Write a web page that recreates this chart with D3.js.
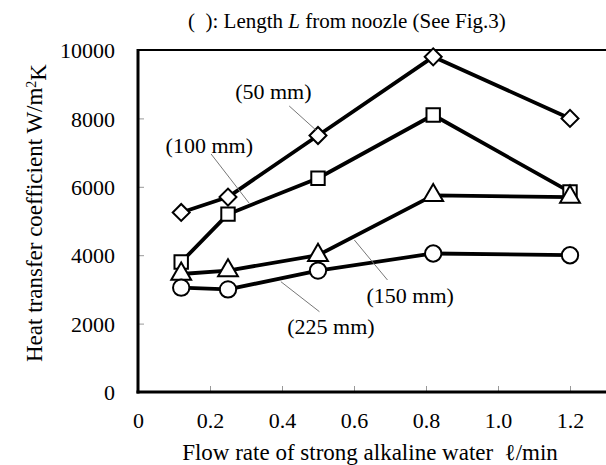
<!DOCTYPE html>
<html>
<head>
<meta charset="utf-8">
<script src="https://cdn.jsdelivr.net/npm/d3@7"></script>
<style>
  body { margin: 0; background: #fff; }
  svg { display: block; }
  text { font-family: "Liberation Serif", "Times New Roman", serif; fill: #000; }
</style>
</head>
<body>
<div id="chart"></div>
<script>
// data ----------------------------------
const flowRates = [0.12, 0.25, 0.5, 0.82, 1.2];
const seriesNames = ['50 mm', '100 mm', '150 mm', '225 mm'];
const h50 = [5250, 5700, 7500, 9800, 8000];
const h100 = [3800, 5200, 6250, 8100, 5850];
const h150 = [3450, 3550, 4000, 5750, 5700];
const h225 = [3050, 3000, 3550, 4050, 4000];
const xTicks = [0, 0.2, 0.4, 0.6, 0.8, 1.0, 1.2];
const yTicks = [0, 2000, 4000, 6000, 8000, 10000];

// label anchors in data units: [text x, text y, leader x1, y1, x2, y2]
const labelAnchors = [
  [0.376, 8780, 0.42, 8363, 0.494, 7661],
  [0.198, 7222, 0.203, 6959, 0.309, 5518],
  [0.756, 2836, 0.693, 3275, 0.601, 4444],
  [0.536, 1909, 0.504, 2348, 0.397, 3225]
];

const W = 606, H = 465;
const margin = { top: 50, right: 0, bottom: 73, left: 138 };

const svg = d3.select('#chart').append('svg')
  .attr('width', W)
  .attr('height', H);

const x = d3.scaleLinear().domain([0, 1.3]).range([margin.left, W - margin.right]);
const y = d3.scaleLinear().domain([0, 10000]).range([H - margin.bottom, margin.top]);

// ticks (inward, thin grey)
const xAxis = d3.axisBottom(x).tickValues(xTicks).tickSize(-6).tickPadding(20)
  .tickFormat(d => d === 0 ? '0' : d3.format('.1f')(d));
const yAxis = d3.axisLeft(y).tickValues(yTicks).tickSize(-6).tickPadding(23)
  .tickFormat(d3.format('d'));

const gx = svg.append('g').attr('transform', 'translate(0,' + y(0) + ')').call(xAxis);
const gy = svg.append('g').attr('transform', 'translate(' + x(0) + ',0)').call(yAxis);
[gx, gy].forEach(g => {
  g.select('.domain').remove();
  g.selectAll('.tick line').attr('stroke', '#999').attr('stroke-width', 1);
  g.selectAll('.tick text').style('font-size', '22px')
    .style('font-family', '"Liberation Serif", serif');
});
gy.selectAll('.tick text').attr('dy', '0.35em');

// frame: thick left + bottom, thinner top
svg.append('line').attr('x1', x(0) - 1).attr('x2', W).attr('y1', y(10000)).attr('y2', y(10000))
  .attr('stroke', '#000').attr('stroke-width', 2);
svg.append('line').attr('x1', x(0)).attr('x2', x(0)).attr('y1', y(10000) - 1).attr('y2', y(0) + 1.5)
  .attr('stroke', '#000').attr('stroke-width', 3);
svg.append('line').attr('x1', x(0) - 1.5).attr('x2', W).attr('y1', y(0)).attr('y2', y(0))
  .attr('stroke', '#000').attr('stroke-width', 3);

// series
const series = [h50, h100, h150, h225].map((vals, i) => ({
  name: seriesNames[i],
  points: vals.map((v, j) => ({ x: flowRates[j], y: v }))
}));

const line = d3.line().x(d => x(d.x)).y(d => y(d.y));

svg.append('g').selectAll('path')
  .data(series)
  .join('path')
  .attr('d', d => line(d.points))
  .attr('fill', 'none')
  .attr('stroke', '#000')
  .attr('stroke-width', 3.8)
  .attr('stroke-linejoin', 'round');

const symbols = [
  { type: d3.symbolSquare, size: 144, rotate: 45 },
  { type: d3.symbolSquare, size: 180, rotate: 0 },
  { type: d3.symbolTriangle, size: 170, rotate: 0 },
  { type: d3.symbolCircle, size: 210, rotate: 0 }
];

series.forEach((s, i) => {
  const sym = symbols[i];
  svg.append('g').selectAll('path')
    .data(s.points)
    .join('path')
    .attr('d', d3.symbol(sym.type, sym.size))
    .attr('transform', d => 'translate(' + x(d.x) + ',' + y(d.y) + ') rotate(' + sym.rotate + ')')
    .attr('fill', '#fff')
    .attr('stroke', '#000')
    .attr('stroke-width', 2);
});

// leader lines + labels
const labels = svg.append('g');
labelAnchors.forEach((a, i) => {
  labels.append('line')
    .attr('x1', x(a[2])).attr('y1', y(a[3]))
    .attr('x2', x(a[4])).attr('y2', y(a[5]))
    .attr('stroke', '#777').attr('stroke-width', 1);
  labels.append('text')
    .attr('x', x(a[0])).attr('y', y(a[1]))
    .attr('dy', '0.35em')
    .attr('text-anchor', 'middle')
    .style('font-size', '22px')
    .text('(' + seriesNames[i] + ')');
});

// title
const title = svg.append('text')
  .attr('x', 188).attr('y', 28)
  .style('font-size', '21px');
title.append('tspan').text('(\u00a0\u00a0): Length ');
title.append('tspan').style('font-style', 'italic').text('L');
title.append('tspan').text(' from noozle (See Fig.3)');

// axis titles
svg.append('text')
  .attr('x', 370).attr('y', 460)
  .attr('text-anchor', 'middle')
  .style('font-size', '23px')
  .text('Flow rate of strong alkaline water\u00a0 \u2113/min');

const yTitle = svg.append('text')
  .attr('transform', 'translate(42,213) rotate(-90)')
  .attr('text-anchor', 'middle')
  .style('font-size', '23px');
yTitle.append('tspan').text('Heat transfer coefficient W/m');
yTitle.append('tspan').attr('dy', '-0.45em').style('font-size', '14px').text('2');
yTitle.append('tspan').attr('dy', '0.45em').text('K');
</script>
</body>
</html>
